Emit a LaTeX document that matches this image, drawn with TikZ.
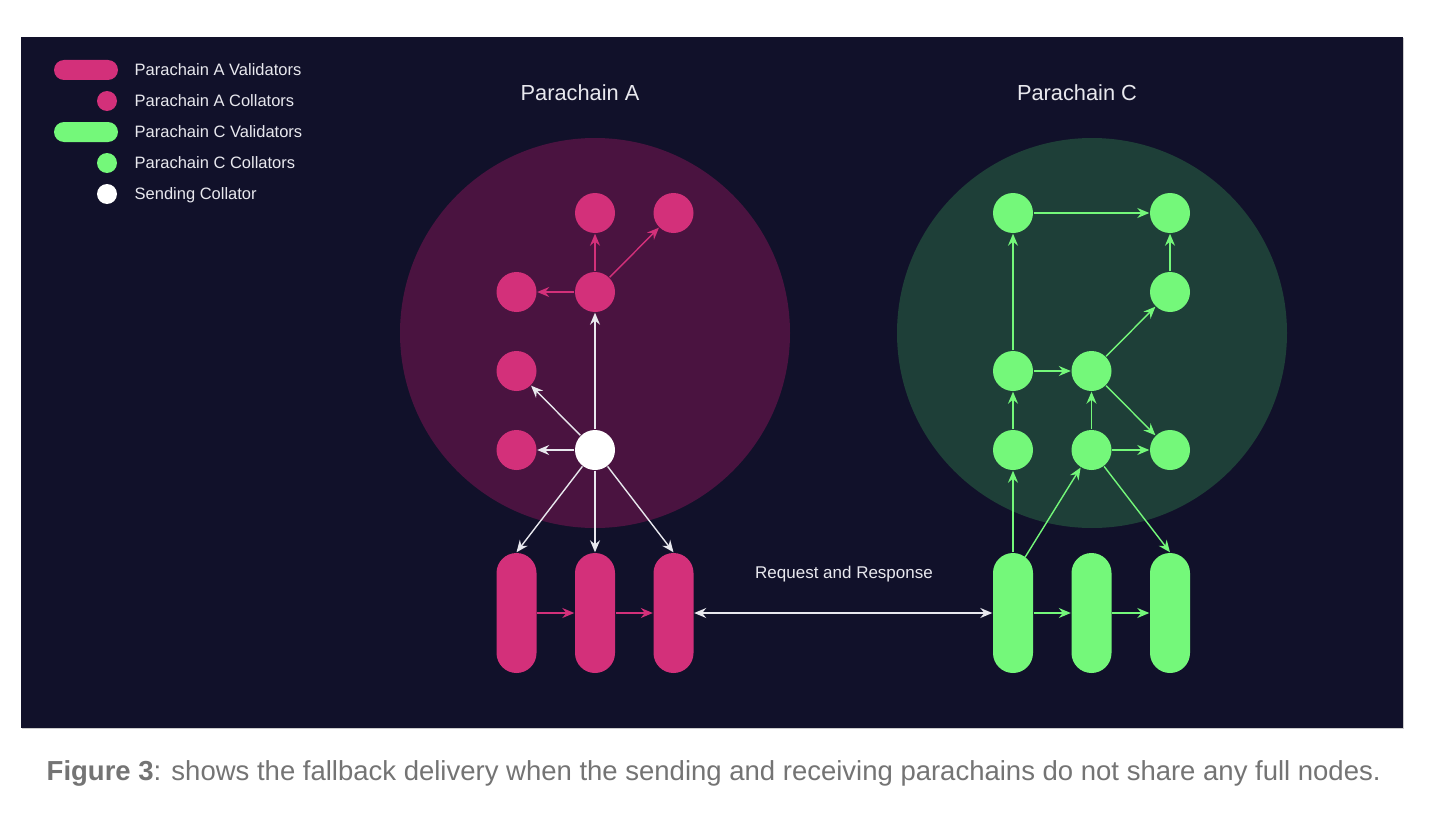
\documentclass[tikz,border=0pt]{standalone}
\usepackage{fontspec}
\setmainfont{Liberation Sans}
\usepackage{tikz}
\usetikzlibrary{arrows.meta,automata,positioning}

\definecolor{night}{HTML}{11112A}
\definecolor{rosa}{HTML}{D3307A}
\definecolor{rosazone}{HTML}{4A1340}
\definecolor{lime}{HTML}{74F87A}
\definecolor{limezone}{HTML}{1E3F38}
\definecolor{chalk}{HTML}{E8E8EE}
\definecolor{capgray}{HTML}{747474}

\begin{document}
\begin{tikzpicture}[>={Stealth[length=12pt,width=10pt,inset=4pt]},line width=1.4pt,x=1pt,y=-1pt,
                    node distance=79pt and 78.5pt,on grid]
                  \tikzstyle{every state}=[fill=rosa,draw=none,minimum size=40pt,inner sep=0pt]
                  \tikzstyle{validator}=[rectangle,rounded corners=20pt,minimum width=40pt,minimum height=120pt,inner sep=0pt,draw=none]
                  \tikzstyle{pill}=[rectangle,rounded corners=10pt,minimum width=64pt,minimum height=20pt,inner sep=0pt]
                  \tikzstyle{dot}=[circle,minimum size=20pt,inner sep=0pt]
                  \tikzstyle{zone}=[circle,minimum size=390pt,inner sep=0pt]
                  \tikzstyle{key}=[text=chalk,font=\fontsize{16.5}{19}\selectfont,text height=11.8pt,text depth=0pt,inner sep=0pt,anchor=west]
                  \tikzstyle{title}=[text=chalk,font=\fontsize{21.8}{24}\selectfont,text height=15.6pt,text depth=0pt,inner sep=0pt]
                  \tikzstyle{rosa link}=[->,color=rosa]
                  \tikzstyle{lime link}=[->,color=lime]
                  \tikzstyle{white link}=[->,color=chalk]

                  \useasboundingbox (0,0) rectangle (1454,816);
                  \fill[white] (0,0) rectangle (1454,816);
                  \fill[night] (21,37) rectangle (1403,728);
                  \draw[black!20,line width=1pt] (1403.5,38) -- (1403.5,728.5) -- (22,728.5);

                  % legend
                  \node[pill,fill=rosa]  (keyva) at (86,70)  {};
                  \node[dot,fill=rosa]   (keyca) at (107,101) {};
                  \node[pill,fill=lime]  (keyvc) at (86,132) {};
                  \node[dot,fill=lime]   (keycc) at (107,163) {};
                  \node[dot,fill=white]  (keys)  at (107,194) {};
                  \node[key] (labva) at (134,70)  {Parachain A Validators};
                  \node[key] (labca) at (134,101) {Parachain A Collators};
                  \node[key] (labvc) at (134,132) {Parachain C Validators};
                  \node[key] (labcc) at (134,163) {Parachain C Collators};
                  \node[key] (labs)  at (134,194) {Sending Collator};

                  \node[zone,fill=rosazone] (zoneA) at (595,333) {};
                  \node[zone,fill=limezone] (zoneC) at (1092,333) {};
                  \node[title] (titleA) at (580,93)  {Parachain A};
                  \node[title] (titleC) at (1077,93) {Parachain C};

                  % parachain A
                  \node[state,fill=white] (send) at (595,450) {};
                  \node[state]         (a6) [left=of send]  {};
                  \node[state]         (a5) [above=of a6]   {};
                  \node[state]         (a3) [above=of a5]   {};
                  \node[state]         (a4) [right=of a3]   {};
                  \node[state]         (a1) [above=of a4]   {};
                  \node[state]         (a2) [right=of a1]   {};
                  \node[validator,fill=rosa] (va1) at (516.5,613) {};
                  \node[validator,fill=rosa] (va2) [right=of va1] {};
                  \node[validator,fill=rosa] (va3) [right=of va2] {};

                  % parachain C
                  \node[state,fill=lime] (c6) at (1013,450) {};
                  \node[state,fill=lime] (c7) [right=of c6]       {};
                  \node[state,fill=lime] (c8) [right=of c7]       {};
                  \node[state,fill=lime] (c4) [above=of c6]       {};
                  \node[state,fill=lime] (c5) [right=of c4]       {};
                  \node[state,fill=lime] (c3) [above right=of c5] {};
                  \node[state,fill=lime] (c2) [above=of c3]       {};
                  \node[state,fill=lime] (c1) [left=157pt of c2]  {};
                  \node[validator,fill=lime] (vc1) at (1013,613) {};
                  \node[validator,fill=lime] (vc2) [right=of vc1] {};
                  \node[validator,fill=lime] (vc3) [right=of vc2] {};

                  \node[text=chalk,font=\fontsize{17}{20}\selectfont,text height=12.2pt,text depth=0pt,inner sep=0pt]
                        (req) at (844,572) {Request and Response};

                  \path[rosa link] (a4) edge (a1) edge (a2) edge (a3)
                        (va1) edge (va2)
                        (va2) edge (va3);
                  \path[white link] (send) edge (a4) edge (a5) edge (a6)
                        edge (va1.north) edge (va2) edge (va3.north);
                  \path[white link,<->] (va3) edge (vc1);
                  \path[lime link] (c1) edge (c2)
                        (c4) edge (c1) edge (c5)
                        (c3) edge (c2)
                        (c5) edge (c3) edge (c8)
                        (c6) edge (c4)
                        (c7) edge (c5) edge (c8) edge (vc3.north)
                        (vc1) edge (c6) edge (vc2)
                        ([xshift=12pt,yshift=-5pt]vc1.north) edge (c7)
                        (vc2) edge (vc3);

                  \node[text=capgray,font=\fontsize{27.5}{30}\selectfont,inner sep=0pt,anchor=base west] (cap) at (46,780)
                        {\textbf{Figure 3}: shows the fallback delivery when the sending and receiving parachains do not share any full nodes.};
                \end{tikzpicture}
\end{document}
